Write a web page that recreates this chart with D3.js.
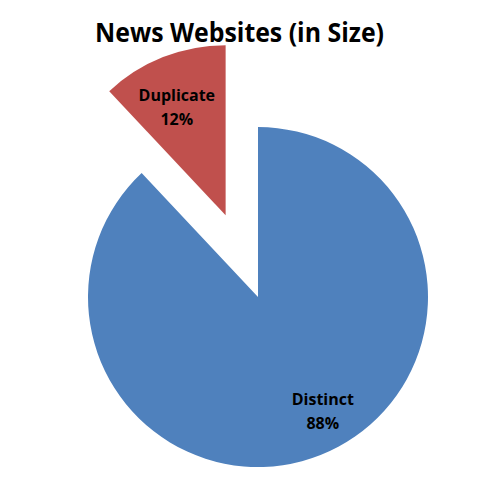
<!DOCTYPE html>
<meta charset="utf-8">
<script src="https://d3js.org/d3.v7.min.js"></script>
<style>
  body { margin: 0; background: #fff; }
</style>
<body>
<script>

var categories = ["Duplicate", "Distinct"];
var shares     = [12, 88];
var pctLabels  = ["12%", "88%"];
var colors     = ["#C0504D", "#4F81BD"];

var width = 480, height = 479;
var cx = 258, cy = 297, radius = 170;
var explode = 88;

var svg = d3.select("body").append("svg")
    .attr("width", width)
    .attr("height", height);

svg.append("text")
    .attr("x", 239.5)
    .attr("y", 42)
    .attr("text-anchor", "middle")
    .style("font-family", "'Open Sans', sans-serif")
    .style("font-weight", "bold")
    .style("font-size", "26px")
    .attr("textLength", 289)
    .attr("lengthAdjust", "spacingAndGlyphs")
    .text("News Websites (in Size)");

var pie = d3.pie().sort(null).startAngle(-2 * Math.PI * shares[0] / 100).endAngle(2 * Math.PI - 2 * Math.PI * shares[0] / 100);
var arc = d3.arc().innerRadius(0).outerRadius(radius);

var data = categories.map(function(c, i) { return { name: c, value: shares[i], pct: pctLabels[i], color: colors[i] }; });
var arcs = pie.value(function(d) { return d.value; })(data);

// only the small slice is pulled out
function offset(d, i) {
  if (i !== 0) return [0, 0];
  var a = (d.startAngle + d.endAngle) / 2;
  return [Math.sin(a) * explode, -Math.cos(a) * explode];
}

var g = svg.append("g").attr("transform", "translate(" + cx + "," + cy + ")");

var slice = g.selectAll(".slice")
    .data(arcs)
    .enter().append("g")
    .attr("class", "slice")
    .attr("transform", function(d, i) { var o = offset(d, i); return "translate(" + o[0] + "," + o[1] + ")"; });

slice.append("path")
    .attr("d", arc)
    .style("fill", function(d) { return d.data.color; });

var labelFactor = [0.70, 0.78];
var labelNudge  = [[-5, 2], [16, -9]];

var label = slice.append("text")
    .attr("transform", function(d, i) {
      var r = radius * labelFactor[i];
      var c = d3.arc().innerRadius(r).outerRadius(r).centroid(d);
      return "translate(" + (c[0] + labelNudge[i][0]) + "," + (c[1] + labelNudge[i][1]) + ")";
    })
    .attr("text-anchor", "middle")
    .style("font-family", "'Open Sans', sans-serif")
    .style("font-weight", "bold")
    .style("font-size", "16px")
    .style("fill", "#000");

label.append("tspan").attr("x", 0).attr("y", -6).text(function(d) { return d.data.name; });
label.append("tspan").attr("x", 0).attr("y", 18).text(function(d) { return d.data.pct; });

</script>
</body>
